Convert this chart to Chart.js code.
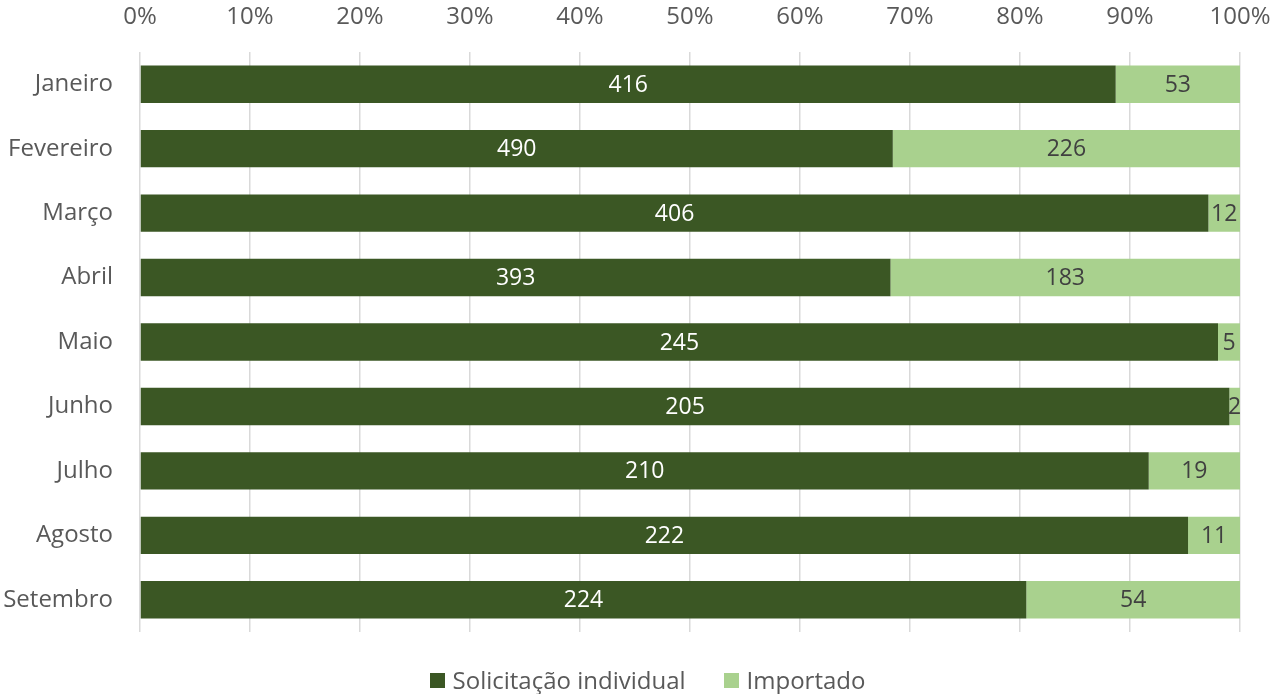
<!DOCTYPE html>
<html>
<head>
<meta charset="utf-8">
<script src="https://cdn.jsdelivr.net/npm/chart.js@4"></script>
<style>
  html, body { margin: 0; padding: 0; background: #fff; }
  #wrap { position: absolute; left: 0; top: 0; width: 1274px; height: 694px; }
  #legend {
    position: absolute; left: 0; top: 664px; width: 1295px;
    display: flex; justify-content: center; gap: 38px;
    font-family: 'Open Sans', 'Noto Sans', sans-serif; font-size: 24px; color: #595959;
    line-height: 32px;
  }
  #legend span.item { display: flex; align-items: center; gap: 8px; }
  #legend i { display: inline-block; width: 15px; height: 15px; }
</style>
</head>
<body>
<div id="wrap"><canvas id="chart"></canvas></div>
<div id="legend"></div>
<script>
const months = ['Janeiro', 'Fevereiro', 'Março', 'Abril', 'Maio', 'Junho', 'Julho', 'Agosto', 'Setembro'];
const individual = [416, 490, 406, 393, 245, 205, 210, 222, 224];
const imported = [53, 226, 12, 183, 5, 2, 19, 11, 54];
const seriesNames = ['Solicitação individual', 'Importado'];
const seriesColors = ['#3b5724', '#a9d18e'];

const FONT = "'Open Sans', 'Noto Sans', sans-serif";
const pct = (arr) => arr.map((v, i) => v / (individual[i] + imported[i]) * 100);

// draw raw counts centred on each segment
const valueLabels = {
  id: 'valueLabels',
  afterDatasetsDraw(chart) {
    const ctx = chart.ctx;
    const raw = [individual, imported];
    const colors = ['#ffffff', '#404040'];
    ctx.save();
    ctx.font = '23px ' + FONT;
    ctx.textAlign = 'center';
    ctx.textBaseline = 'middle';
    chart.data.datasets.forEach((ds, d) => {
      chart.getDatasetMeta(d).data.forEach((bar, i) => {
        const cx = (bar.x + bar.base) / 2;
        ctx.fillStyle = colors[d];
        ctx.fillText(String(raw[d][i]), cx, bar.y + 1);
      });
    });
    ctx.restore();
  }
};

const chart = new Chart(document.getElementById('chart'), {
  type: 'bar',
  data: {
    labels: months,
    datasets: [
      { label: seriesNames[0], data: pct(individual), backgroundColor: seriesColors[0], borderWidth: 0 },
      { label: seriesNames[1], data: pct(imported), backgroundColor: seriesColors[1], borderWidth: 0 }
    ]
  },
  options: {
    indexAxis: 'y',
    responsive: true,
    maintainAspectRatio: false,
    animation: false,
    layout: { padding: { left: 0, right: 34, top: 0, bottom: 62 } },
    datasets: { bar: { barPercentage: 0.58, categoryPercentage: 1 } },
    scales: {
      x: {
        stacked: true,
        position: 'top',
        min: 0, max: 100,
        ticks: {
          stepSize: 10,
          color: '#595959',
          font: { family: FONT, size: 24 },
          padding: 20,
          callback: (v) => v + '%'
        },
        grid: { color: '#d9d9d9', lineWidth: 1.5, drawTicks: false },
        border: { display: false },
        afterFit: (s) => { s.height = 52; s.paddingRight = 0; }
      },
      y: {
        stacked: true,
        ticks: { color: '#595959', font: { family: FONT, size: 24 }, padding: 19 },
        grid: { display: false },
        border: { display: false },
        afterFit: (s) => { s.width = 140; }
      }
    },
    plugins: {
      legend: { display: false },
      tooltip: { enabled: false }
    }
  },
  plugins: [valueLabels]
});

// legend below the plot
document.getElementById('legend').innerHTML = chart.data.datasets.map(ds =>
  `<span class="item"><i style="background:${ds.backgroundColor}"></i>${ds.label}</span>`
).join('');
</script>
</body>
</html>
